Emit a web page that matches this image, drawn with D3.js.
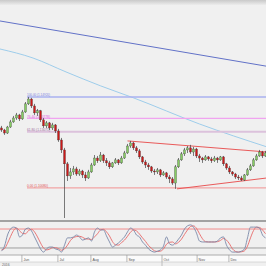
<!DOCTYPE html>
<html><head><meta charset="utf-8">
<script src="https://cdn.jsdelivr.net/npm/d3@7"></script>
<style>html,body{margin:0;padding:0;background:#f0f0f0;overflow:hidden}svg{display:block}</style>
</head><body><svg id="c" width="266" height="266"></svg>
<script>
// ---- data ----
const opens=[1.1327,1.1316,1.1300,1.1332,1.1359,1.1380,1.1396,1.1375,1.1412,1.1455,1.1481,1.1444,1.1407,1.1418,1.1370,1.1338,1.1354,1.1327,1.1343,1.1311,1.1263,1.1210,1.1136,1.1072,1.1093,1.1109,1.1082,1.1098,1.1077,1.1061,1.1093,1.1130,1.1167,1.1152,1.1183,1.1152,1.1141,1.1120,1.1141,1.1157,1.1141,1.1167,1.1194,1.1231,1.1247,1.1221,1.1205,1.1173,1.1146,1.1130,1.1120,1.1098,1.1093,1.1104,1.1077,1.1088,1.1066,1.1056,1.1034,1.1120,1.1157,1.1189,1.1210,1.1221,1.1199,1.1215,1.1178,1.1167,1.1157,1.1173,1.1162,1.1152,1.1167,1.1157,1.1173,1.1136,1.1114,1.1093,1.1082,1.1066,1.1061,1.1050,1.1077,1.1104,1.1125,1.1157,1.1178,1.1199,1.1178];
const highs=[1.1338,1.1322,1.1338,1.1370,1.1391,1.1407,1.1402,1.1423,1.1465,1.1492,1.1487,1.1455,1.1428,1.1423,1.1380,1.1364,1.1359,1.1354,1.1348,1.1322,1.1274,1.1221,1.1146,1.1114,1.1125,1.1120,1.1109,1.1104,1.1093,1.1104,1.1141,1.1183,1.1178,1.1199,1.1189,1.1167,1.1152,1.1146,1.1167,1.1162,1.1178,1.1205,1.1242,1.1258,1.1253,1.1231,1.1215,1.1178,1.1157,1.1141,1.1125,1.1109,1.1114,1.1109,1.1098,1.1093,1.1077,1.1066,1.1130,1.1167,1.1199,1.1221,1.1231,1.1237,1.1226,1.1221,1.1189,1.1173,1.1183,1.1178,1.1173,1.1178,1.1173,1.1178,1.1178,1.1141,1.1125,1.1098,1.1088,1.1077,1.1072,1.1082,1.1114,1.1136,1.1167,1.1189,1.1210,1.1205,1.1205];
const lows=[1.1306,1.1290,1.1295,1.1327,1.1354,1.1370,1.1364,1.1370,1.1407,1.1449,1.1433,1.1396,1.1391,1.1359,1.1327,1.1327,1.1316,1.1316,1.1300,1.1253,1.1194,1.0848,1.1045,1.1056,1.1077,1.1072,1.1072,1.1061,1.1045,1.1056,1.1088,1.1125,1.1141,1.1146,1.1141,1.1125,1.1109,1.1114,1.1136,1.1130,1.1136,1.1162,1.1189,1.1221,1.1210,1.1194,1.1162,1.1136,1.1114,1.1104,1.1088,1.1077,1.1082,1.1066,1.1072,1.1056,1.1034,1.1024,1.1003,1.1114,1.1152,1.1178,1.1194,1.1189,1.1178,1.1167,1.1146,1.1141,1.1152,1.1152,1.1141,1.1146,1.1141,1.1152,1.1125,1.1104,1.1082,1.1072,1.1056,1.1050,1.1045,1.1045,1.1072,1.1098,1.1120,1.1152,1.1173,1.1167,1.1173];
const closes=[1.1316,1.1300,1.1332,1.1359,1.1380,1.1396,1.1375,1.1412,1.1455,1.1481,1.1444,1.1407,1.1418,1.1370,1.1338,1.1354,1.1327,1.1343,1.1311,1.1263,1.1210,1.1136,1.1072,1.1093,1.1109,1.1082,1.1098,1.1077,1.1061,1.1093,1.1130,1.1167,1.1152,1.1183,1.1152,1.1141,1.1120,1.1141,1.1157,1.1141,1.1167,1.1194,1.1231,1.1247,1.1221,1.1205,1.1173,1.1146,1.1130,1.1120,1.1098,1.1093,1.1104,1.1077,1.1088,1.1066,1.1056,1.1034,1.1120,1.1157,1.1189,1.1210,1.1221,1.1199,1.1215,1.1178,1.1167,1.1157,1.1173,1.1162,1.1152,1.1167,1.1157,1.1173,1.1136,1.1114,1.1093,1.1082,1.1066,1.1061,1.1050,1.1077,1.1104,1.1125,1.1157,1.1178,1.1199,1.1178,1.1194];
const stochK=[10,26,61,80,86,83,55,61,80,83,74,55,36,17,7,17,23,23,17,14,7,29,52,52,55,61,55,45,48,52,42,71,83,77,77,58,39,23,29,36,45,55,71,83,77,61,55,39,29,17,10,7,10,14,26,55,33,29,36,48,61,80,90,93,86,67,42,39,39,39,39,39,42,52,55,29,14,7,7,7,10,17,52,86,86,86,83,61,52];
const stochD=[14,18,35,56,75,83,75,66,65,75,79,71,55,36,20,14,16,21,21,18,13,17,29,44,53,56,57,54,49,48,47,55,65,77,79,71,58,40,30,29,37,45,57,70,77,74,64,52,41,28,19,11,9,10,17,32,38,39,33,38,48,63,77,88,90,82,65,49,40,39,39,39,40,44,50,45,33,17,9,7,8,11,26,52,75,86,85,77,65];
const stochLevels=[80,20];
const fibLevels=[
  {name:"100.00 (1.14920)",price:1.1492},
  {name:"76.40 (1.13778)",price:1.13778},
  {name:"61.80 (1.13071)",price:1.13071},
  {name:"0.00 (1.10080)",price:1.1008}];
const fibStartIndex=8.5;
const channelUpper=[{i:42,p:1.1258},{i:88.5,p:1.1199}];
const channelLower=[{i:58.5,p:1.1003},{i:88.5,p:1.1061}];
const trendDark=[{i:-0.5,p:1.1896},{i:88.5,p:1.1655}];
const trendLight=[{i:-0.5,p:1.1747},{i:10.5,p:1.1699},{i:21.5,p:1.1625},{i:33,p:1.1551},{i:44,p:1.1487},{i:66,p:1.1348},{i:88.5,p:1.1226}];
const tickIdx=[6.8,18.8,29.8,41.8,53.5,65.2,75.8];
const tickLabels=["Jun","Jul","Aug","Sep","Oct","Nov","Dec"];
const yearLabel="2016";

// ---- drawing ----
const svg=d3.select('#c');
const x=d3.scaleLinear().domain([-0.5,88.5]).range([0,267]);
const y=d3.scaleLinear().domain([1.0848,1.1981]).range([218,5]);
const ys=d3.scaleLinear().domain([0,100]).range([254.3,222.7]);
const defs=svg.append('defs');
const g=defs.append('linearGradient').attr('id','hdr').attr('x1',0).attr('x2',0).attr('y1',0).attr('y2',1);
g.append('stop').attr('offset','0%').attr('stop-color','#c9c9c9');
g.append('stop').attr('offset','100%').attr('stop-color','#ececec');
defs.append('clipPath').attr('id','cm').append('rect').attr('x',0).attr('y',5).attr('width',266).attr('height',215);
defs.append('clipPath').attr('id','co').append('rect').attr('x',0).attr('y',222).attr('width',266).attr('height',33);

svg.append('rect').attr('width',266).attr('height',266).attr('fill','#f0f0f0');
svg.append('rect').attr('width',266).attr('height',5).attr('fill','url(#hdr)');

const main=svg.append('g').attr('clip-path','url(#cm)');
const line=d3.line().x(d=>x(d.i)).y(d=>y(d.p));

main.append('path').datum(trendDark).attr('d',line).attr('fill','none').attr('stroke','#6272c8').attr('stroke-width',1);
main.append('path').datum(trendLight).attr('d',line.curve(d3.curveMonotoneX)).attr('fill','none').attr('stroke','#94c8ea').attr('stroke-width',0.9);
line.curve(d3.curveLinear);

const fibColors=[{l:'#aab2f0',t:'#7880e0',w:1.6},{l:'#f0a4f0',t:'#e060e0',w:1.2},{l:'#dcc2dc',t:'#a070a0',w:2},{l:'#f2a4a4',t:'#e05050',w:1.2}];
fibLevels.forEach((f,k)=>{
  main.append('line').attr('x1',x(fibStartIndex)).attr('x2',266).attr('y1',y(f.price)).attr('y2',y(f.price))
    .attr('stroke',fibColors[k].l).attr('stroke-width',fibColors[k].w);
  main.append('text').attr('x',x(fibStartIndex)).attr('y',y(f.price)-0.6).text(f.name)
    .attr('font-family','Liberation Sans, Arial, sans-serif').attr('font-size',3.4)
    .attr('textLength',k===3?21:23).attr('lengthAdjust','spacingAndGlyphs').attr('fill',fibColors[k].t);
});

main.append('path').datum(channelUpper).attr('d',line).attr('fill','none').attr('stroke','#e84848').attr('stroke-width',0.9);
main.append('path').datum(channelLower).attr('d',line).attr('fill','none').attr('stroke','#e84848').attr('stroke-width',0.9);

const candles=closes.map((c,i)=>({i,o:opens[i],h:highs[i],l:lows[i],c}));
main.selectAll('.w').data(candles).enter().append('line')
  .attr('x1',d=>x(d.i)).attr('x2',d=>x(d.i)).attr('y1',d=>y(d.h)).attr('y2',d=>y(d.l))
  .attr('stroke','#444').attr('stroke-width',0.7);
main.selectAll('.b').data(candles).enter().append('rect')
  .attr('x',d=>x(d.i)-1).attr('width',2)
  .attr('y',d=>y(Math.max(d.o,d.c))).attr('height',d=>Math.max(0.8,Math.abs(y(d.o)-y(d.c))))
  .attr('fill',d=>d.c>=d.o?'#86cc62':'#cc1818').attr('stroke','#333').attr('stroke-width',0.3);

// separator
svg.append('line').attr('x1',0).attr('x2',266).attr('y1',221).attr('y2',221).attr('stroke','#555').attr('stroke-width',1.2);

// oscillator
const osc=svg.append('g').attr('clip-path','url(#co)');
osc.append('line').attr('x1',0).attr('x2',266).attr('y1',ys(stochLevels[0])).attr('y2',ys(stochLevels[0])).attr('stroke','#f08c8c').attr('stroke-width',1);
osc.append('line').attr('x1',0).attr('x2',266).attr('y1',ys(stochLevels[1])).attr('y2',ys(stochLevels[1])).attr('stroke','#8a8a8a').attr('stroke-width',0.8);
const sl=d3.line().x((d,i)=>x(i)).y(d=>ys(d)).curve(d3.curveMonotoneX);
osc.append('path').datum(stochD).attr('d',sl).attr('fill','none').attr('stroke','#e86a6a').attr('stroke-width',0.9);
osc.append('path').datum(stochK).attr('d',sl).attr('fill','none').attr('stroke','#7a88a8').attr('stroke-width',0.9);

// axis strip
svg.append('rect').attr('x',0).attr('y',255).attr('width',266).attr('height',7).attr('fill','#fbfbfb');
svg.append('line').attr('x1',0).attr('x2',266).attr('y1',255).attr('y2',255).attr('stroke','#9a9a9a').attr('stroke-width',0.8);
svg.append('line').attr('x1',0).attr('x2',266).attr('y1',262).attr('y2',262).attr('stroke','#c8c8c8').attr('stroke-width',0.6);
tickIdx.forEach((t,k)=>{
  svg.append('line').attr('x1',x(t)).attr('x2',x(t)).attr('y1',255).attr('y2',262).attr('stroke','#999').attr('stroke-width',0.7);
  svg.append('text').attr('x',x(t)+1.5).attr('y',260.5).text(tickLabels[k])
    .attr('font-family','Liberation Sans, Arial, sans-serif').attr('font-size',3.6).attr('fill','#555');
});
svg.append('line').attr('x1',x(tickIdx[4])).attr('x2',x(tickIdx[4])).attr('y1',262).attr('y2',266).attr('stroke','#aaa').attr('stroke-width',0.7);
svg.append('text').attr('x',2).attr('y',265.6).text(yearLabel)
  .attr('font-family','Liberation Sans, Arial, sans-serif').attr('font-size',3.4).attr('fill','#666');
</script></body></html>
